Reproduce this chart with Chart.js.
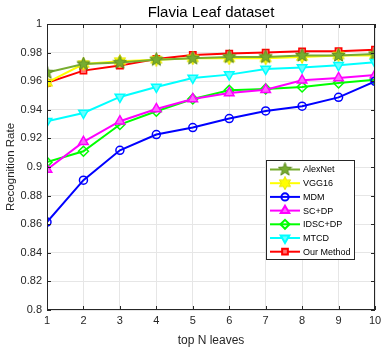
<!DOCTYPE html>
<html>
<head>
<meta charset="utf-8">
<script src="https://cdn.jsdelivr.net/npm/chart.js@4/dist/chart.umd.min.js"></script>
<style>
  html, body { margin: 0; padding: 0; background: #fff; }
  #wrap { width: 382px; height: 352px; }
</style>
</head>
<body>
<div id="wrap"><canvas id="chart" width="382" height="352"></canvas></div>
<script>
const topN = [1, 2, 3, 4, 5, 6, 7, 8, 9, 10];
const yTicks = [0.8, 0.82, 0.84, 0.86, 0.88, 0.9, 0.92, 0.94, 0.96, 0.98, 1];

const alexNet = [0.966, 0.972, 0.973, 0.975, 0.976, 0.977, 0.977, 0.978, 0.978, 0.979];
const vgg16   = [0.959, 0.972, 0.974, 0.975, 0.976, 0.976, 0.976, 0.977, 0.978, 0.978];
const mdm     = [0.8615, 0.8908, 0.9117, 0.9227, 0.9276, 0.9339, 0.9392, 0.9425, 0.9487, 0.9599];
const scDp    = [0.8983, 0.9176, 0.932, 0.9406, 0.9476, 0.9518, 0.9541, 0.9606, 0.9623, 0.9644];
const idscDp  = [0.9034, 0.911, 0.9297, 0.939, 0.9476, 0.9536, 0.9546, 0.956, 0.9588, 0.9611];
const mtcd    = [0.932, 0.9378, 0.949, 0.956, 0.9623, 0.9646, 0.9686, 0.9695, 0.9711, 0.9732];
const ourMethod = [0.9588, 0.9674, 0.9709, 0.9756, 0.9784, 0.9793, 0.980, 0.9809, 0.981, 0.982];

const FONT = '"Liberation Sans", Arial, sans-serif';

// star-shaped markers drawn once on small canvases
function starMarker(points, size, fill, stroke) {
  const c = document.createElement('canvas');
  c.width = size; c.height = size;
  const g = c.getContext('2d');
  const r1 = size / 2 - 0.5, r2 = r1 * (points === 5 ? 0.42 : 0.55);
  g.beginPath();
  for (let i = 0; i < points * 2; i++) {
    const r = i % 2 === 0 ? r1 : r2;
    const a = -Math.PI / 2 + i * Math.PI / points;
    const px = size / 2 + r * Math.cos(a), py = size / 2 + r * Math.sin(a);
    if (i === 0) g.moveTo(px, py); else g.lineTo(px, py);
  }
  g.closePath();
  g.fillStyle = fill; g.fill();
  g.strokeStyle = stroke; g.lineWidth = 1; g.stroke();
  return c;
}

const pentagram = starMarker(5, 15, '#77AC30', '#5f8c22');
const hexagram = starMarker(6, 14, '#FFFF00', '#e6e600');

function series(label, data, color, extra) {
  return Object.assign({
    label: label,
    data: data.map((v, i) => ({ x: topN[i], y: v })),
    borderColor: color,
    backgroundColor: color,
    pointBorderColor: color,
    borderWidth: 2,
    pointRadius: 5,
    pointBorderWidth: 1.5,
    tension: 0
  }, extra);
}

const datasets = [
  series('MDM', mdm, '#0000FF', { pointStyle: 'circle', pointBackgroundColor: 'rgba(255,255,255,0)', pointRadius: 4 }),
  series('SC+DP', scDp, '#FF00FF', { pointStyle: 'triangle', pointBackgroundColor: '#FF66FF', pointRadius: 5.5 }),
  series('IDSC+DP', idscDp, '#00FF00', { pointStyle: 'rectRot', pointBackgroundColor: 'rgba(255,255,255,0)', pointRadius: 5 }),
  series('MTCD', mtcd, '#00FFFF', { pointStyle: 'triangle', pointRotation: 180, pointBackgroundColor: '#66FFFF', pointRadius: 5.5 }),
  series('AlexNet', alexNet, '#77AC30', { pointStyle: pentagram }),
  series('VGG16', vgg16, '#FFFF00', { pointStyle: hexagram }),
  series('Our Method', ourMethod, '#FF0000', { pointStyle: 'rect', pointBackgroundColor: '#FF7070', pointRadius: 4.5 })
];
const legendOrder = ['AlexNet', 'VGG16', 'MDM', 'SC+DP', 'IDSC+DP', 'MTCD', 'Our Method'];

const frameAndLegend = {
  id: 'frameAndLegend',
  afterDraw(chart) {
    const ctx = chart.ctx;
    const a = chart.chartArea;
    const xs = chart.scales.x, ys = chart.scales.y;
    ctx.save();

    // title centred over the plot area
    ctx.fillStyle = '#000';
    ctx.font = '15px ' + FONT;
    ctx.textAlign = 'center';
    ctx.textBaseline = 'middle';
    ctx.fillText('Flavia Leaf dataset', (a.left + a.right) / 2, 12.5);

    // box and inward ticks
    ctx.strokeStyle = '#262626';
    ctx.lineWidth = 1;
    ctx.strokeRect(a.left + 0.5, a.top + 0.5, a.right - a.left - 1, a.bottom - a.top - 1);
    ctx.beginPath();
    yTicks.forEach(v => {
      const y = Math.round(ys.getPixelForValue(v)) + 0.5;
      ctx.moveTo(a.left, y); ctx.lineTo(a.left + 4, y);
      ctx.moveTo(a.right, y); ctx.lineTo(a.right - 4, y);
    });
    topN.forEach(v => {
      const x = Math.round(xs.getPixelForValue(v)) + 0.5;
      ctx.moveTo(x, a.bottom); ctx.lineTo(x, a.bottom - 4);
      ctx.moveTo(x, a.top); ctx.lineTo(x, a.top + 4);
    });
    ctx.stroke();

    // legend box
    const bx = 266, by = 160, bw = 88, bh = 99;
    ctx.fillStyle = '#fff';
    ctx.fillRect(bx, by, bw, bh);
    ctx.strokeStyle = '#262626';
    ctx.strokeRect(bx + 0.5, by + 0.5, bw, bh);
    ctx.font = '9px ' + FONT;
    ctx.textBaseline = 'middle';
    ctx.textAlign = 'left';
    legendOrder.forEach((name, i) => {
      const ds = datasets.find(d => d.label === name);
      const y = by + 9.5 + i * 13.7;
      ctx.strokeStyle = ds.borderColor;
      ctx.lineWidth = 2;
      ctx.beginPath();
      ctx.moveTo(270, y); ctx.lineTo(300, y);
      ctx.stroke();
      ctx.fillStyle = ds.pointBackgroundColor || ds.backgroundColor;
      ctx.strokeStyle = ds.pointBorderColor;
      Chart.helpers.drawPoint(ctx, {
        pointStyle: ds.pointStyle,
        radius: ds.pointRadius * 0.9,
        rotation: ds.pointRotation || 0,
        borderWidth: ds.pointBorderWidth
      }, 285, y);
      ctx.fillStyle = '#000';
      ctx.fillText(name, 303, y + 0.5);
    });
    ctx.restore();
  }
};

new Chart(document.getElementById('chart'), {
  type: 'line',
  data: { datasets: datasets },
  options: {
    responsive: false,
    animation: false,
    layout: { padding: { left: 0, right: 5, top: 24, bottom: 0 } },
    plugins: {
      legend: { display: false },
      tooltip: { enabled: false },
      title: { display: false }
    },
    scales: {
      x: {
        type: 'linear',
        min: 1, max: 10,
        afterBuildTicks: s => { s.ticks = topN.map(v => ({ value: v })); },
        afterFit: s => { s.height = 42; s.paddingLeft = 0; s.paddingRight = 0; },
        ticks: {
          color: '#262626',
          font: { family: FONT, size: 11 },
          padding: 4,
          maxRotation: 0
        },
        grid: { color: '#e6e6e6', drawTicks: false },
        border: { display: false },
        title: {
          display: true,
          text: 'top N leaves',
          color: '#262626',
          font: { family: FONT, size: 12 },
          padding: { top: 2 }
        }
      },
      y: {
        min: 0.8, max: 1,
        afterBuildTicks: s => { s.ticks = yTicks.map(v => ({ value: v })); },
        afterFit: s => { s.width = 47; s.paddingTop = 0; s.paddingBottom = 0; },
        ticks: {
          color: '#262626',
          font: { family: FONT, size: 11 },
          padding: 5,
          callback: v => String(+v.toFixed(2))
        },
        grid: { color: '#e6e6e6', drawTicks: false },
        border: { display: false },
        title: {
          display: true,
          text: 'Recognition Rate',
          color: '#262626',
          font: { family: FONT, size: 11.5 },
          padding: { bottom: 2 }
        }
      }
    }
  },
  plugins: [frameAndLegend]
});
</script>
</body>
</html>
